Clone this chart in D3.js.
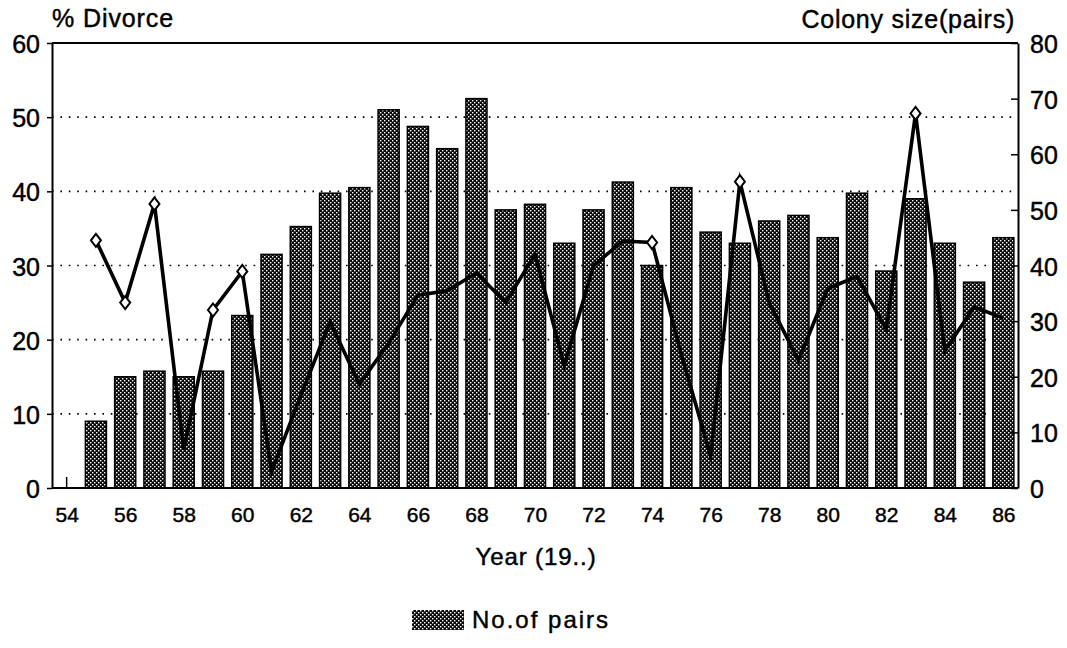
<!DOCTYPE html>
<html>
<head>
<meta charset="utf-8">
<script src="https://cdn.jsdelivr.net/npm/d3@7"></script>
<style>
  body { margin: 0; background: #fff; }
  text { font-family: "Liberation Sans", Arial, sans-serif; fill: #000; stroke: #000; stroke-width: 0.45px; }
</style>
</head>
<body>
<svg id="chart" width="1067" height="648"></svg>
<script>
// Breeding seasons (19..) with colony size and divorce rate
const years = [55, 56, 57, 58, 59, 60, 61, 62, 63, 64, 65, 66, 67, 68, 69, 70,
               71, 72, 73, 74, 75, 76, 77, 78, 79, 80, 81, 82, 83, 84, 85, 86];
// Colony size, number of pairs (right axis)
const pairs = [12, 20, 21, 20, 21, 31, 42, 47, 53, 54, 68, 65, 61, 70, 50, 51,
               44, 50, 55, 40, 54, 46, 44, 48, 49, 45, 53, 39, 52, 44, 37, 45];
// Divorce rate, % (left axis)
const divorce = [33.4, 25, 38.3, 5.2, 24, 29.2, 2.2, 12.5, 22.4, 14, 19.5, 26, 26.6, 29, 25, 31.5,
                 16.5, 30, 33.3, 33.1, 18, 4.3, 41.3, 25, 17.2, 26.9, 28.5, 21.4, 50.5, 18.5, 24.4, 22.9];
const axisYears = [54].concat(years);
const yearLabels = [54, 56, 58, 60, 62, 64, 66, 68, 70, 72, 74, 76, 78, 80, 82, 84, 86];
const leftTicks = [0, 10, 20, 30, 40, 50, 60];
const rightTicks = [0, 10, 20, 30, 40, 50, 60, 70, 80];

const svg = d3.select("#chart");
const box = { left: 52, right: 1018, top: 43, bottom: 488 };

const x = d3.scalePoint().domain(axisYears).range([box.left, box.right]).padding(0.5);
const yL = d3.scaleLinear().domain([0, 60]).range([box.bottom, box.top]);
const yR = d3.scaleLinear().domain([0, 80]).range([box.bottom, box.top]);
const barW = x.step() * 0.72;

// Dotted screen fill for the bars
const defs = svg.append("defs");
const pat = defs.append("pattern").attr("id", "screen")
  .attr("patternUnits", "userSpaceOnUse").attr("width", 4).attr("height", 4);
pat.append("rect").attr("width", 4).attr("height", 4).attr("fill", "#0a0a0a");
pat.append("rect").attr("x", 0).attr("y", 0).attr("width", 1.4).attr("height", 1.4).attr("fill", "#fff");
pat.append("rect").attr("x", 2).attr("y", 2).attr("width", 1.4).attr("height", 1.4).attr("fill", "#fff");

// Dotted horizontal gridlines
svg.append("g").selectAll("line")
  .data(leftTicks.filter(t => t > 0 && t < 60))
  .join("line")
  .attr("x1", box.left).attr("x2", box.right)
  .attr("y1", d => yL(d)).attr("y2", d => yL(d))
  .attr("stroke", "#000").attr("stroke-width", 1.6)
  .attr("stroke-dasharray", "1.6 6.8");

// Bars: number of pairs
const rows = years.map((yr, i) => ({ yr, pairs: pairs[i], divorce: divorce[i] }));
svg.append("g").selectAll("rect")
  .data(rows)
  .join("rect")
  .attr("x", d => x(d.yr) - barW / 2)
  .attr("y", d => yR(d.pairs))
  .attr("width", barW)
  .attr("height", d => box.bottom - yR(d.pairs))
  .attr("fill", "url(#screen)")
  .attr("stroke", "#000").attr("stroke-width", 1.5);

// Divorce line
svg.append("path")
  .datum(rows)
  .attr("fill", "none")
  .attr("stroke", "#000").attr("stroke-width", 3.6)
  .attr("stroke-linejoin", "miter").attr("stroke-miterlimit", 6)
  .attr("d", d3.line().x(d => x(d.yr)).y(d => yL(d.divorce)));

// Open diamond markers; inside the screened bars they vanish into the texture
svg.append("g").selectAll("path")
  .data(rows.filter(d => yL(d.divorce) < yR(d.pairs)))
  .join("path")
  .attr("transform", d => `translate(${x(d.yr)},${yL(d.divorce)})`)
  .attr("d", "M0,-6.5L5,0L0,6.5L-5,0Z")
  .attr("fill", "#fff")
  .attr("stroke", "#000").attr("stroke-width", 2);

// Small mark at the first year
svg.append("line")
  .attr("x1", x(54)).attr("x2", x(54))
  .attr("y1", box.bottom).attr("y2", box.bottom - 11)
  .attr("stroke", "#000").attr("stroke-width", 1.5);

// Frame: top and bottom edges
svg.append("line").attr("x1", box.left).attr("x2", box.right)
  .attr("y1", box.top).attr("y2", box.top).attr("stroke", "#000").attr("stroke-width", 2);
svg.append("line").attr("x1", box.left).attr("x2", box.right)
  .attr("y1", box.bottom).attr("y2", box.bottom).attr("stroke", "#000").attr("stroke-width", 2);

// Left axis: % divorce
const gL = svg.append("g").attr("transform", `translate(${box.left},0)`)
  .call(d3.axisLeft(yL).tickValues(leftTicks).tickSize(5).tickSizeOuter(0).tickPadding(7));
gL.selectAll("text").attr("font-size", 25).attr("dy", "0.38em");

// Right axis: colony size
const gR = svg.append("g").attr("transform", `translate(${box.right},0)`)
  .call(d3.axisRight(yR).tickValues(rightTicks).tickSize(-7).tickSizeOuter(0).tickPadding(12));
gR.selectAll("text").attr("font-size", 25).attr("dy", "0.38em");

// Bottom axis: years
const gB = svg.append("g").attr("transform", `translate(0,${box.bottom})`)
  .call(d3.axisBottom(x).tickValues(yearLabels).tickSize(0).tickPadding(19));
gB.selectAll("text").attr("font-size", 21);
gB.select(".domain").remove();

[gL, gR].forEach(g => {
  g.select(".domain").attr("stroke-width", 2);
  g.selectAll(".tick line").attr("stroke-width", 1.5);
});
[gL, gR, gB].forEach(g => g.attr("font-family", null));

// Axis titles
svg.append("text").attr("x", 52).attr("y", 27)
  .attr("font-size", 25).attr("letter-spacing", 0.9).text("% Divorce");
svg.append("text").attr("x", 1015).attr("y", 28).attr("text-anchor", "end")
  .attr("font-size", 25).attr("letter-spacing", 0.75).text("Colony size(pairs)");
svg.append("text").attr("x", (box.left + box.right) / 2 + 1).attr("y", 565).attr("text-anchor", "middle")
  .attr("font-size", 24).attr("letter-spacing", 0.9).text("Year (19..)");

// Legend
const lg = svg.append("g").attr("transform", "translate(412,610)");
lg.append("rect").attr("width", 52).attr("height", 20).attr("fill", "url(#screen)");
lg.append("text").attr("x", 60).attr("y", 18).attr("font-size", 24)
  .attr("letter-spacing", 2).text("No.of pairs");
</script>
</body>
</html>
